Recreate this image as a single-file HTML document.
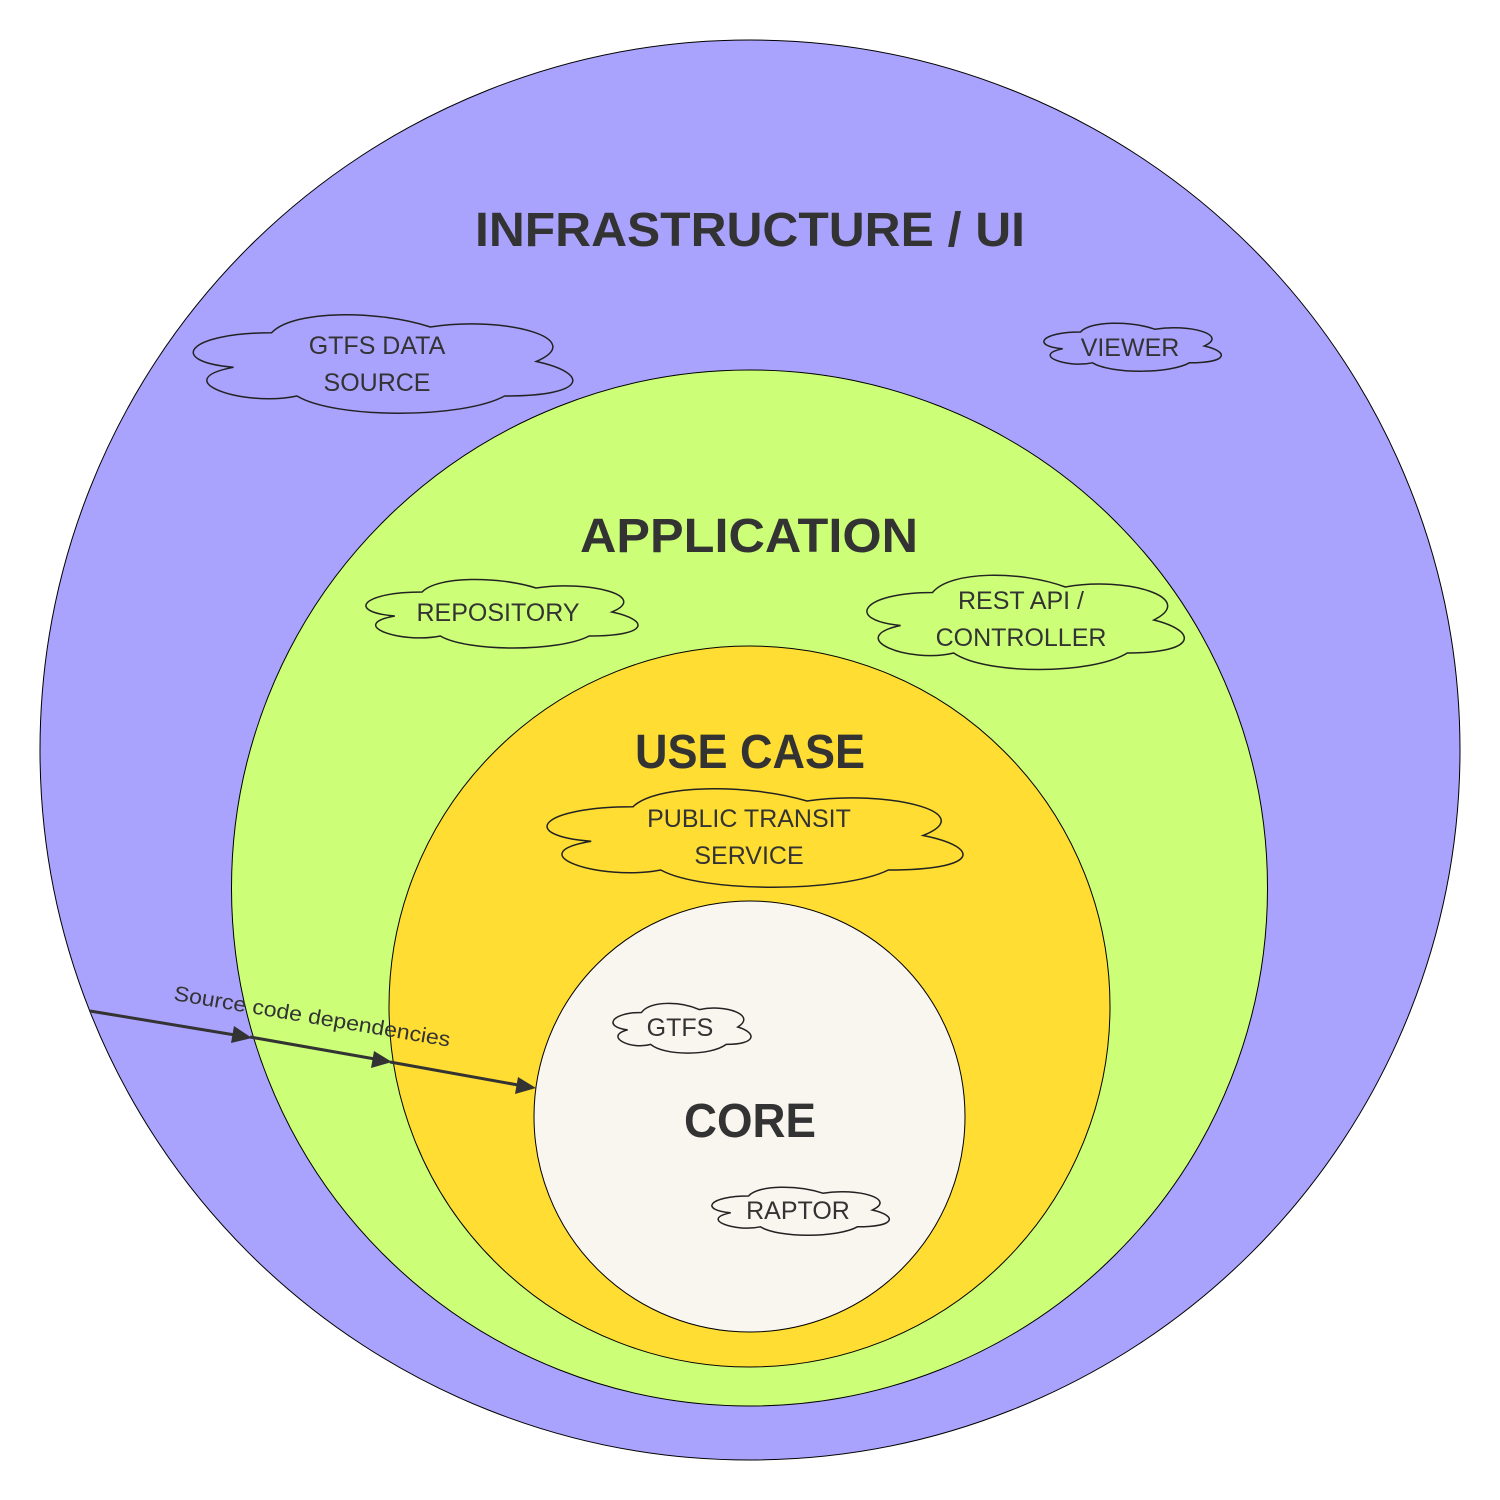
<!DOCTYPE html>
<html><head><meta charset="utf-8"><style>
html,body{margin:0;padding:0;background:#fff}
svg{display:block}
text{font-family:"Liberation Sans",sans-serif;fill:#333}
</style></head><body>
<svg id="s" width="1500" height="1500" viewBox="0 0 1500 1500" xmlns="http://www.w3.org/2000/svg">
<circle cx="750" cy="750" r="710" fill="#aaa3fd" stroke="#000" stroke-width="1"/>
<circle cx="749.5" cy="888" r="518" fill="#ccff77" stroke="#000" stroke-width="1"/>
<circle cx="749.5" cy="1006.5" r="360.5" fill="#ffdd33" stroke="#000" stroke-width="1"/>
<circle cx="749.5" cy="1116.5" r="215.5" fill="#f9f5ef" stroke="#000" stroke-width="1"/>

<g font-weight="bold" font-size="48" text-anchor="middle">
<text x="750" y="246" textLength="550" lengthAdjust="spacingAndGlyphs">INFRASTRUCTURE / UI</text>
<text x="749" y="552" textLength="338" lengthAdjust="spacingAndGlyphs">APPLICATION</text>
<text x="750" y="768" textLength="230" lengthAdjust="spacingAndGlyphs">USE CASE</text>
<text x="750" y="1137" textLength="132" lengthAdjust="spacingAndGlyphs">CORE</text>
</g>

<g id="clouds" fill="none" stroke="#222" stroke-width="1.5"></g>

<g font-size="25" text-anchor="middle">
<text x="377" y="354">GTFS DATA</text>
<text x="377" y="391">SOURCE</text>
<text x="1130" y="356">VIEWER</text>
<text x="498" y="621">REPOSITORY</text>
<text x="1021" y="609">REST API /</text>
<text x="1021" y="646">CONTROLLER</text>
<text x="749" y="827">PUBLIC TRANSIT</text>
<text x="749" y="864">SERVICE</text>
<text x="680" y="1036">GTFS</text>
<text x="798" y="1219">RAPTOR</text>
</g>

<g stroke="#333" stroke-width="3" fill="#333">
<line x1="90" y1="1011" x2="235" y2="1035"/>
<line x1="250" y1="1037" x2="375" y2="1059"/>
<line x1="390" y1="1062" x2="518" y2="1085"/>
<polygon points="252,1038 231,1043 234,1026" stroke="none"/>
<polygon points="392,1062 371,1068 374,1051" stroke="none"/>
<polygon points="536,1088 515,1094 518,1077" stroke="none"/>
</g>
<text x="173" y="1000" font-size="21" transform="rotate(9.6 173 1000)" textLength="280" lengthAdjust="spacingAndGlyphs">Source code dependencies</text>
</svg>
<script>
var u=[[0.25,0.25],[0.05,0.25,0,0.5,0.16,0.55],[0,0.66,0.18,0.9,0.31,0.8],[0.4,1,0.7,1,0.8,0.8],[1,0.8,1,0.6,0.875,0.5],[1,0.3,0.8,0.1,0.625,0.2],[0.5,0.05,0.3,0.05,0.25,0.25]];
var cs=[[185,304,385,115],[1040,318,180,56],[360,572,276,80],[860,565,322,110],[538,778,422,115],[610,998,140,58],[708,1182,180,56]];
var g=document.getElementById('clouds');
cs.forEach(function(c){
 c=[c[0]-0.05*c[2],c[1],c[2]*1.1,c[3]];
 function p(a){var o=[];for(var i=0;i<a.length;i+=2){o.push((c[0]+a[i]*c[2]).toFixed(1)+','+(c[1]+a[i+1]*c[3]).toFixed(1));}return o.join(' ');}
 var d='M'+p(u[0]);for(var i=1;i<u.length;i++)d+=' C'+p(u[i]);d+=' Z';
 var e=document.createElementNS('http://www.w3.org/2000/svg','path');e.setAttribute('d',d);g.appendChild(e);
});
</script>
</body></html>
